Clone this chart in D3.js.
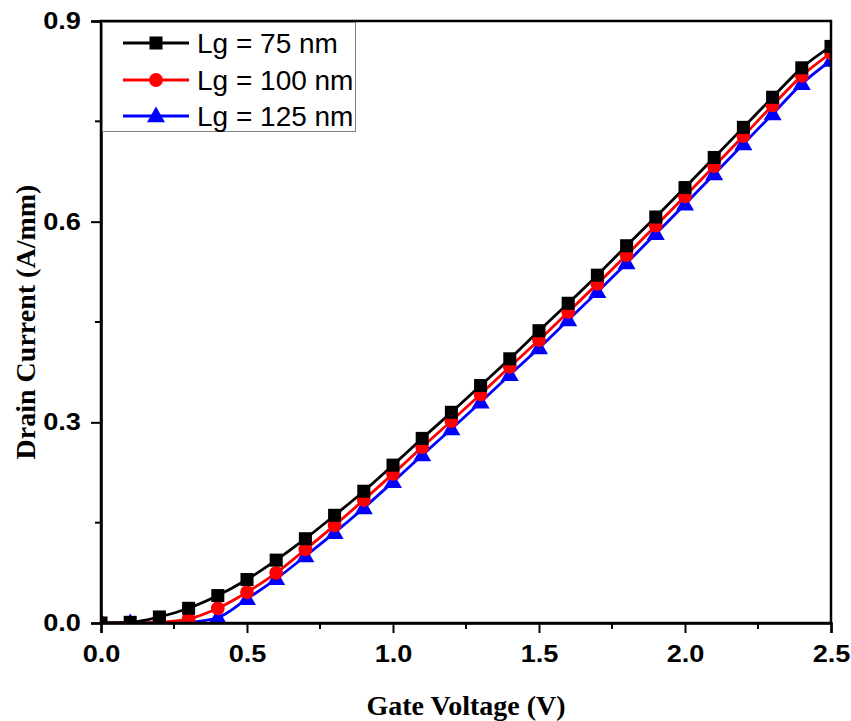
<!DOCTYPE html>
<html><head><meta charset="utf-8">
<script src="https://cdn.jsdelivr.net/npm/d3@7"></script>
<style>
body{margin:0;background:#fff;}
.tick text{transform-box:fill-box;transform-origin:center;transform:scaleX(1.18);}
</style>
</head><body>
<svg id="chart" width="851" height="721"></svg>
<script>
const gateVoltage = [0.0,0.1,0.2,0.3,0.4,0.5,0.6,0.7,0.8,0.9,1.0,1.1,1.2,1.3,1.4,1.5,1.6,1.7,1.8,1.9,2.0,2.1,2.2,2.3,2.4,2.5];
const lg75  = [0.000,0.001,0.009,0.022,0.041,0.065,0.094,0.126,0.161,0.197,0.236,0.276,0.315,0.355,0.395,0.437,0.478,0.520,0.564,0.607,0.651,0.696,0.741,0.786,0.830,0.862];
const lg100 = [0.000,0.000,0.001,0.006,0.022,0.046,0.075,0.110,0.146,0.184,0.223,0.263,0.302,0.342,0.383,0.423,0.465,0.507,0.550,0.594,0.638,0.683,0.728,0.774,0.818,0.852];
const lg125 = [0.000,0.000,0.000,0.001,0.008,0.036,0.066,0.100,0.135,0.172,0.211,0.251,0.290,0.330,0.371,0.411,0.453,0.495,0.538,0.582,0.626,0.671,0.716,0.761,0.806,0.841];
const seriesNames = ["Lg = 75 nm","Lg = 100 nm","Lg = 125 nm"];
const seriesColors = ["#000000","#ff0000","#0000ff"];
const seriesSymbols = [d3.symbolSquare, d3.symbolCircle, d3.symbolTriangle];
const xTicks = [0.0,0.5,1.0,1.5,2.0,2.5];
const yTicks = [0.0,0.3,0.6,0.9];

const series = [lg75, lg100, lg125].map((vals,i)=>({
  name: seriesNames[i], color: seriesColors[i], symbol: seriesSymbols[i],
  points: gateVoltage.map((v,j)=>({x:v, y:vals[j]}))
}));

const svg = d3.select("#chart");
const L=101, R=831, T=21, B=623;
const x = d3.scaleLinear().domain([0,2.5]).range([L,R]);
const y = d3.scaleLinear().domain([0,0.9]).range([B,T]);

svg.append("defs").append("clipPath").attr("id","plotclip")
  .append("rect").attr("x",L).attr("y",T).attr("width",R-L).attr("height",B-T);

const plot = svg.append("g").attr("clip-path","url(#plotclip)");
const line = d3.line().x(d=>x(d.x)).y(d=>y(d.y)).curve(d3.curveMonotoneX);
const symSize = [170, 150, 140];

series.slice().reverse().forEach((s)=>{
  plot.append("path").datum(s.points).attr("d",line)
    .attr("fill","none").attr("stroke",s.color).attr("stroke-width",2.8);
});
series.slice().reverse().forEach((s)=>{
  const i = series.indexOf(s);
  plot.selectAll(null).data(s.points).enter().append("path")
    .attr("transform",d=>`translate(${x(d.x)},${y(d.y) + (i===2?1:0)})`)
    .attr("d",d3.symbol().type(s.symbol).size(symSize[i]))
    .attr("fill",s.color);
});

// frame
svg.append("rect").attr("x",L).attr("y",T).attr("width",R-L).attr("height",B-T)
  .attr("fill","none").attr("stroke","#000").attr("stroke-width",2.5);

// axes
const fontTick = "'Liberation Sans', Arial, sans-serif";
const xAxis = svg.append("g").attr("transform",`translate(0,${B})`)
  .call(d3.axisBottom(x).tickValues(xTicks).tickFormat(d3.format(".1f")).tickSize(10).tickPadding(13));
const yAxis = svg.append("g").attr("transform",`translate(${L},0)`)
  .call(d3.axisLeft(y).tickValues(yTicks).tickFormat(d3.format(".1f")).tickSize(10).tickPadding(13));
[xAxis,yAxis].forEach(a=>{
  a.select(".domain").attr("stroke","#000").attr("stroke-width",2.5);
  a.selectAll(".tick line").attr("stroke","#000").attr("stroke-width",2);
  a.selectAll(".tick text").attr("fill","#000").style("font-family",fontTick)
    .style("font-weight","bold").style("font-size","23px");
});
// minor ticks
const xMinor = d3.range(0.25,2.5,0.5);
const yMinor = d3.range(0.15,0.9,0.3);
svg.append("g").selectAll(null).data(xMinor).enter().append("line")
  .attr("x1",d=>x(d)).attr("x2",d=>x(d)).attr("y1",B).attr("y2",B+6)
  .attr("stroke","#000").attr("stroke-width",2);
svg.append("g").selectAll(null).data(yMinor).enter().append("line")
  .attr("y1",d=>y(d)).attr("y2",d=>y(d)).attr("x1",L).attr("x2",L-6)
  .attr("stroke","#000").attr("stroke-width",2);

// axis titles
const fontTitle = "'Liberation Serif','Times New Roman',serif";
svg.append("text").attr("x",(L+R)/2).attr("y",715).attr("text-anchor","middle")
  .style("font-family",fontTitle).style("font-weight","bold").style("font-size","28px")
  .text("Gate Voltage (V)");
svg.append("text").attr("transform",`translate(35,${(T+B)/2}) rotate(-90)`).attr("text-anchor","middle")
  .style("font-family",fontTitle).style("font-weight","bold").style("font-size","28px")
  .text("Drain Current (A/mm)");

// legend
const leg = svg.append("g");
leg.append("rect").attr("x",102.5).attr("y",22.5).attr("width",253).attr("height",109)
  .attr("fill","#fff").attr("stroke","#808080").attr("stroke-width",1);
const rowsY = [43,80,116];
series.forEach((s,i)=>{
  const g = leg.append("g").attr("transform",`translate(0,${rowsY[i]})`);
  g.append("line").attr("x1",123).attr("x2",189).attr("y1",0).attr("y2",0)
    .attr("stroke",s.color).attr("stroke-width",2.8);
  g.append("path").attr("transform",`translate(156,${i===2?1:0})`)
    .attr("d",d3.symbol().type(s.symbol).size(symSize[i])).attr("fill",s.color);
  g.append("text").attr("x",197).attr("y",10).style("font-family",fontTick)
    .style("font-size","28px").attr("fill","#000").text(s.name);
});
</script>
</body></html>
